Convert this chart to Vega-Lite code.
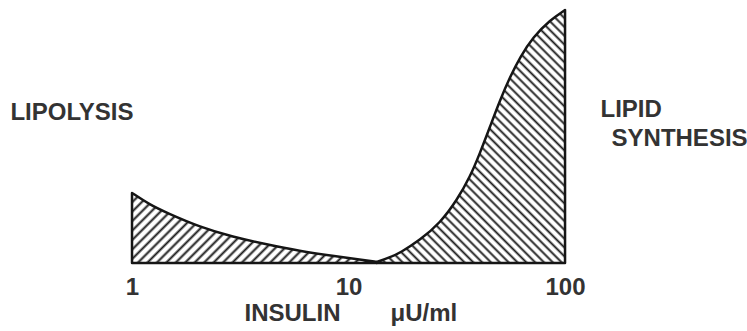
{
  "$schema": "https://vega.github.io/schema/vega-lite/v6.json",
  "autosize": "none",
  "width": 747,
  "height": 263,
  "padding": {"left": 0, "top": 0, "right": 0, "bottom": 68},
  "background": "white",
  "config": {"view": {"stroke": null}},
  "datasets": {
    "lipolysis": [
      {"insulin": 1, "value": 27.7},
      {"insulin": 1.2, "value": 23.2},
      {"insulin": 1.45, "value": 19.8},
      {"insulin": 2.06, "value": 14.2},
      {"insulin": 2.93, "value": 10.3},
      {"insulin": 4.11, "value": 7.5},
      {"insulin": 5.97, "value": 4.7},
      {"insulin": 8.48, "value": 2.8},
      {"insulin": 11.5, "value": 1.3},
      {"insulin": 13.5, "value": 0.4}
    ],
    "synthesis": [
      {"insulin": 13.5, "value": 0.4},
      {"insulin": 15.5, "value": 2.2},
      {"insulin": 17.3, "value": 4.0},
      {"insulin": 21.4, "value": 9.1},
      {"insulin": 26.5, "value": 15.8},
      {"insulin": 31.7, "value": 24.9},
      {"insulin": 36.4, "value": 34.0},
      {"insulin": 40.5, "value": 43.5},
      {"insulin": 45.0, "value": 53.8},
      {"insulin": 50.1, "value": 64.4},
      {"insulin": 55.7, "value": 73.5},
      {"insulin": 62.0, "value": 81.4},
      {"insulin": 71.2, "value": 89.3},
      {"insulin": 85.2, "value": 96.0},
      {"insulin": 100, "value": 100}
    ],
    "labels": [
      {"label": "LIPOLYSIS", "insulin": 0.528, "value": 59.3},
      {"label": "LIPID", "insulin": 202, "value": 60.5},
      {"label": "SYNTHESIS", "insulin": 338, "value": 49.0},
      {"label": "INSULIN", "insulin": 5.51, "value": -20.2},
      {"label": "μU/ml", "insulin": 22.3, "value": -20.2}
    ]
  },
  "encoding": {
    "x": {
      "field": "insulin",
      "type": "quantitative",
      "scale": {"type": "log", "domain": [0.2456, 692.6], "nice": false},
      "axis": {
        "values": [1, 10, 100],
        "format": "d",
        "title": null,
        "domain": false,
        "ticks": false,
        "tickSize": 0,
        "grid": false,
        "labelPadding": 12,
        "labelFont": "Liberation Sans",
        "labelFontSize": 24,
        "labelFontWeight": "bold",
        "labelColor": "#333333",
        "labelFlush": false
      }
    },
    "y": {
      "field": "value",
      "type": "quantitative",
      "scale": {"domain": [0, 103.95], "nice": false, "zero": false},
      "axis": null
    }
  },
  "layer": [
    {
      "data": {"name": "lipolysis"},
      "mark": {
        "type": "area",
        "interpolate": "basis",
        "stroke": "#151515",
        "strokeWidth": 2.5,
        "strokeJoin": "round",
        "fill": {
          "gradient": "linear",
          "x1": 0, "y1": 0, "x2": 1.189, "y2": 0.34,
          "stops": [
            {"offset": 0, "color": "#1a1a1a"}, {"offset": 0.009, "color": "#fff"}, {"offset": 0.021, "color": "#fff"},
            {"offset": 0.03, "color": "#1a1a1a"}, {"offset": 0.039, "color": "#fff"}, {"offset": 0.051, "color": "#fff"},
            {"offset": 0.06, "color": "#1a1a1a"}, {"offset": 0.069, "color": "#fff"}, {"offset": 0.081, "color": "#fff"},
            {"offset": 0.09, "color": "#1a1a1a"}, {"offset": 0.099, "color": "#fff"}, {"offset": 0.111, "color": "#fff"},
            {"offset": 0.12, "color": "#1a1a1a"}, {"offset": 0.129, "color": "#fff"}, {"offset": 0.141, "color": "#fff"},
            {"offset": 0.15, "color": "#1a1a1a"}, {"offset": 0.159, "color": "#fff"}, {"offset": 0.171, "color": "#fff"},
            {"offset": 0.18, "color": "#1a1a1a"}, {"offset": 0.189, "color": "#fff"}, {"offset": 0.201, "color": "#fff"},
            {"offset": 0.21, "color": "#1a1a1a"}, {"offset": 0.219, "color": "#fff"}, {"offset": 0.231, "color": "#fff"},
            {"offset": 0.24, "color": "#1a1a1a"}, {"offset": 0.249, "color": "#fff"}, {"offset": 0.261, "color": "#fff"},
            {"offset": 0.27, "color": "#1a1a1a"}, {"offset": 0.279, "color": "#fff"}, {"offset": 0.291, "color": "#fff"},
            {"offset": 0.3, "color": "#1a1a1a"}, {"offset": 0.309, "color": "#fff"}, {"offset": 0.321, "color": "#fff"},
            {"offset": 0.33, "color": "#1a1a1a"}, {"offset": 0.339, "color": "#fff"}, {"offset": 0.351, "color": "#fff"},
            {"offset": 0.36, "color": "#1a1a1a"}, {"offset": 0.369, "color": "#fff"}, {"offset": 0.381, "color": "#fff"},
            {"offset": 0.39, "color": "#1a1a1a"}, {"offset": 0.399, "color": "#fff"}, {"offset": 0.411, "color": "#fff"},
            {"offset": 0.42, "color": "#1a1a1a"}, {"offset": 0.429, "color": "#fff"}, {"offset": 0.441, "color": "#fff"},
            {"offset": 0.45, "color": "#1a1a1a"}, {"offset": 0.459, "color": "#fff"}, {"offset": 0.471, "color": "#fff"},
            {"offset": 0.48, "color": "#1a1a1a"}, {"offset": 0.489, "color": "#fff"}, {"offset": 0.501, "color": "#fff"},
            {"offset": 0.51, "color": "#1a1a1a"}, {"offset": 0.519, "color": "#fff"}, {"offset": 0.531, "color": "#fff"},
            {"offset": 0.54, "color": "#1a1a1a"}, {"offset": 0.549, "color": "#fff"}, {"offset": 0.561, "color": "#fff"},
            {"offset": 0.57, "color": "#1a1a1a"}, {"offset": 0.579, "color": "#fff"}, {"offset": 0.591, "color": "#fff"},
            {"offset": 0.6, "color": "#1a1a1a"}, {"offset": 0.609, "color": "#fff"}, {"offset": 0.621, "color": "#fff"},
            {"offset": 0.63, "color": "#1a1a1a"}, {"offset": 0.639, "color": "#fff"}, {"offset": 0.651, "color": "#fff"},
            {"offset": 0.66, "color": "#1a1a1a"}, {"offset": 0.669, "color": "#fff"}, {"offset": 0.681, "color": "#fff"},
            {"offset": 0.69, "color": "#1a1a1a"}, {"offset": 0.699, "color": "#fff"}, {"offset": 0.711, "color": "#fff"},
            {"offset": 0.72, "color": "#1a1a1a"}, {"offset": 0.729, "color": "#fff"}, {"offset": 0.741, "color": "#fff"},
            {"offset": 0.75, "color": "#1a1a1a"}, {"offset": 0.759, "color": "#fff"}, {"offset": 0.771, "color": "#fff"},
            {"offset": 0.78, "color": "#1a1a1a"}, {"offset": 0.789, "color": "#fff"}, {"offset": 0.801, "color": "#fff"},
            {"offset": 0.81, "color": "#1a1a1a"}, {"offset": 0.819, "color": "#fff"}, {"offset": 0.831, "color": "#fff"},
            {"offset": 0.84, "color": "#1a1a1a"}, {"offset": 0.849, "color": "#fff"}, {"offset": 0.861, "color": "#fff"},
            {"offset": 0.87, "color": "#1a1a1a"}, {"offset": 0.879, "color": "#fff"}, {"offset": 0.891, "color": "#fff"},
            {"offset": 0.9, "color": "#1a1a1a"}, {"offset": 0.909, "color": "#fff"}, {"offset": 0.921, "color": "#fff"},
            {"offset": 0.93, "color": "#1a1a1a"}, {"offset": 0.939, "color": "#fff"}, {"offset": 0.951, "color": "#fff"},
            {"offset": 0.96, "color": "#1a1a1a"}, {"offset": 0.969, "color": "#fff"}, {"offset": 0.981, "color": "#fff"},
            {"offset": 0.99, "color": "#1a1a1a"}, {"offset": 1, "color": "#fff"}
          ]
        }
      }
    },
    {
      "data": {"name": "synthesis"},
      "mark": {
        "type": "area",
        "interpolate": "basis",
        "stroke": "#151515",
        "strokeWidth": 2.5,
        "strokeJoin": "round",
        "fill": {
          "gradient": "linear",
          "x1": 0, "y1": 1, "x2": 0.8346, "y2": -0.1233,
          "stops": [
            {"offset": 0, "color": "#1a1a1a"}, {"offset": 0.006, "color": "#fff"}, {"offset": 0.014, "color": "#fff"},
            {"offset": 0.02, "color": "#1a1a1a"}, {"offset": 0.026, "color": "#fff"}, {"offset": 0.034, "color": "#fff"},
            {"offset": 0.04, "color": "#1a1a1a"}, {"offset": 0.046, "color": "#fff"}, {"offset": 0.054, "color": "#fff"},
            {"offset": 0.06, "color": "#1a1a1a"}, {"offset": 0.066, "color": "#fff"}, {"offset": 0.074, "color": "#fff"},
            {"offset": 0.08, "color": "#1a1a1a"}, {"offset": 0.086, "color": "#fff"}, {"offset": 0.094, "color": "#fff"},
            {"offset": 0.1, "color": "#1a1a1a"}, {"offset": 0.106, "color": "#fff"}, {"offset": 0.114, "color": "#fff"},
            {"offset": 0.12, "color": "#1a1a1a"}, {"offset": 0.126, "color": "#fff"}, {"offset": 0.134, "color": "#fff"},
            {"offset": 0.14, "color": "#1a1a1a"}, {"offset": 0.146, "color": "#fff"}, {"offset": 0.154, "color": "#fff"},
            {"offset": 0.16, "color": "#1a1a1a"}, {"offset": 0.166, "color": "#fff"}, {"offset": 0.174, "color": "#fff"},
            {"offset": 0.18, "color": "#1a1a1a"}, {"offset": 0.186, "color": "#fff"}, {"offset": 0.194, "color": "#fff"},
            {"offset": 0.2, "color": "#1a1a1a"}, {"offset": 0.206, "color": "#fff"}, {"offset": 0.214, "color": "#fff"},
            {"offset": 0.22, "color": "#1a1a1a"}, {"offset": 0.226, "color": "#fff"}, {"offset": 0.234, "color": "#fff"},
            {"offset": 0.24, "color": "#1a1a1a"}, {"offset": 0.246, "color": "#fff"}, {"offset": 0.254, "color": "#fff"},
            {"offset": 0.26, "color": "#1a1a1a"}, {"offset": 0.266, "color": "#fff"}, {"offset": 0.274, "color": "#fff"},
            {"offset": 0.28, "color": "#1a1a1a"}, {"offset": 0.286, "color": "#fff"}, {"offset": 0.294, "color": "#fff"},
            {"offset": 0.3, "color": "#1a1a1a"}, {"offset": 0.306, "color": "#fff"}, {"offset": 0.314, "color": "#fff"},
            {"offset": 0.32, "color": "#1a1a1a"}, {"offset": 0.326, "color": "#fff"}, {"offset": 0.334, "color": "#fff"},
            {"offset": 0.34, "color": "#1a1a1a"}, {"offset": 0.346, "color": "#fff"}, {"offset": 0.354, "color": "#fff"},
            {"offset": 0.36, "color": "#1a1a1a"}, {"offset": 0.366, "color": "#fff"}, {"offset": 0.374, "color": "#fff"},
            {"offset": 0.38, "color": "#1a1a1a"}, {"offset": 0.386, "color": "#fff"}, {"offset": 0.394, "color": "#fff"},
            {"offset": 0.4, "color": "#1a1a1a"}, {"offset": 0.406, "color": "#fff"}, {"offset": 0.414, "color": "#fff"},
            {"offset": 0.42, "color": "#1a1a1a"}, {"offset": 0.426, "color": "#fff"}, {"offset": 0.434, "color": "#fff"},
            {"offset": 0.44, "color": "#1a1a1a"}, {"offset": 0.446, "color": "#fff"}, {"offset": 0.454, "color": "#fff"},
            {"offset": 0.46, "color": "#1a1a1a"}, {"offset": 0.466, "color": "#fff"}, {"offset": 0.474, "color": "#fff"},
            {"offset": 0.48, "color": "#1a1a1a"}, {"offset": 0.486, "color": "#fff"}, {"offset": 0.494, "color": "#fff"},
            {"offset": 0.5, "color": "#1a1a1a"}, {"offset": 0.506, "color": "#fff"}, {"offset": 0.514, "color": "#fff"},
            {"offset": 0.52, "color": "#1a1a1a"}, {"offset": 0.526, "color": "#fff"}, {"offset": 0.534, "color": "#fff"},
            {"offset": 0.54, "color": "#1a1a1a"}, {"offset": 0.546, "color": "#fff"}, {"offset": 0.554, "color": "#fff"},
            {"offset": 0.56, "color": "#1a1a1a"}, {"offset": 0.566, "color": "#fff"}, {"offset": 0.574, "color": "#fff"},
            {"offset": 0.58, "color": "#1a1a1a"}, {"offset": 0.586, "color": "#fff"}, {"offset": 0.594, "color": "#fff"},
            {"offset": 0.6, "color": "#1a1a1a"}, {"offset": 0.606, "color": "#fff"}, {"offset": 0.614, "color": "#fff"},
            {"offset": 0.62, "color": "#1a1a1a"}, {"offset": 0.626, "color": "#fff"}, {"offset": 0.634, "color": "#fff"},
            {"offset": 0.64, "color": "#1a1a1a"}, {"offset": 0.646, "color": "#fff"}, {"offset": 0.654, "color": "#fff"},
            {"offset": 0.66, "color": "#1a1a1a"}, {"offset": 0.666, "color": "#fff"}, {"offset": 0.674, "color": "#fff"},
            {"offset": 0.68, "color": "#1a1a1a"}, {"offset": 0.686, "color": "#fff"}, {"offset": 0.694, "color": "#fff"},
            {"offset": 0.7, "color": "#1a1a1a"}, {"offset": 0.706, "color": "#fff"}, {"offset": 0.714, "color": "#fff"},
            {"offset": 0.72, "color": "#1a1a1a"}, {"offset": 0.726, "color": "#fff"}, {"offset": 0.734, "color": "#fff"},
            {"offset": 0.74, "color": "#1a1a1a"}, {"offset": 0.746, "color": "#fff"}, {"offset": 0.754, "color": "#fff"},
            {"offset": 0.76, "color": "#1a1a1a"}, {"offset": 0.766, "color": "#fff"}, {"offset": 0.774, "color": "#fff"},
            {"offset": 0.78, "color": "#1a1a1a"}, {"offset": 0.786, "color": "#fff"}, {"offset": 0.794, "color": "#fff"},
            {"offset": 0.8, "color": "#1a1a1a"}, {"offset": 0.806, "color": "#fff"}, {"offset": 0.814, "color": "#fff"},
            {"offset": 0.82, "color": "#1a1a1a"}, {"offset": 0.826, "color": "#fff"}, {"offset": 0.834, "color": "#fff"},
            {"offset": 0.84, "color": "#1a1a1a"}, {"offset": 0.846, "color": "#fff"}, {"offset": 0.854, "color": "#fff"},
            {"offset": 0.86, "color": "#1a1a1a"}, {"offset": 0.866, "color": "#fff"}, {"offset": 0.874, "color": "#fff"},
            {"offset": 0.88, "color": "#1a1a1a"}, {"offset": 0.886, "color": "#fff"}, {"offset": 0.894, "color": "#fff"},
            {"offset": 0.9, "color": "#1a1a1a"}, {"offset": 0.906, "color": "#fff"}, {"offset": 0.914, "color": "#fff"},
            {"offset": 0.92, "color": "#1a1a1a"}, {"offset": 0.926, "color": "#fff"}, {"offset": 0.934, "color": "#fff"},
            {"offset": 0.94, "color": "#1a1a1a"}, {"offset": 0.946, "color": "#fff"}, {"offset": 0.954, "color": "#fff"},
            {"offset": 0.96, "color": "#1a1a1a"}, {"offset": 0.966, "color": "#fff"}, {"offset": 0.974, "color": "#fff"},
            {"offset": 0.98, "color": "#1a1a1a"}, {"offset": 0.986, "color": "#fff"}, {"offset": 0.994, "color": "#fff"},
            {"offset": 1, "color": "#1a1a1a"}
          ]
        }
      }
    },
    {
      "data": {"name": "labels"},
      "mark": {
        "type": "text",
        "font": "Liberation Sans",
        "fontSize": 24,
        "fontWeight": "bold",
        "color": "#333333",
        "align": "center",
        "baseline": "middle"
      },
      "encoding": {
        "text": {"field": "label", "type": "nominal"}
      }
    }
  ]
}
